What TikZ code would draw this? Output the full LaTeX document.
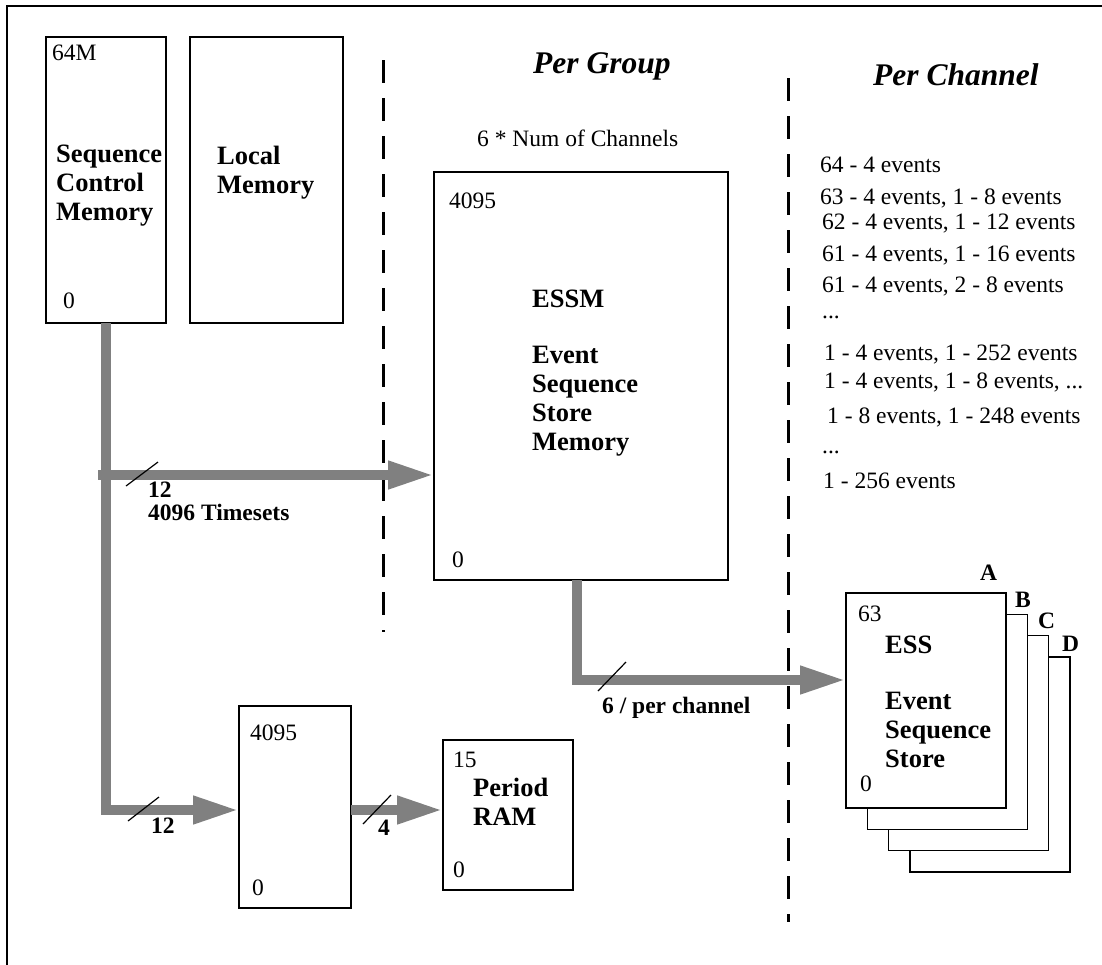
\documentclass[tikz,border=0pt]{standalone}
\usepackage{fontspec}
\setmainfont{Liberation Serif}
\usetikzlibrary{arrows.meta}
\definecolor{busgray}{RGB}{128,128,128}

\tikzset{
    membox/.style={draw, line width=1.4pt, fill=white, inner sep=0pt, outer sep=0pt},
    bus/.style={draw=busgray, line width=10pt, line join=miter, -{Triangle[length=46pt,width=26pt]}},
    slash/.style={line width=1.2pt},
    divider/.style={line width=3pt, dash pattern=on 23pt off 15pt},
    txt/.style={font=\fontsize{23.5}{27}\selectfont, inner sep=0pt, anchor=base west},
    boldlbl/.style={font=\fontsize{23.5}{27}\selectfont\bfseries, inner sep=0pt, anchor=base west},
    boxlbl/.style={font=\fontsize{26.5}{29}\selectfont\bfseries, inner sep=0pt, anchor=base west, align=left},
    heading/.style={font=\fontsize{31.5}{34}\selectfont\bfseries\itshape, inner sep=0pt, anchor=base west}
}

\begin{document}
\begin{tikzpicture}[x=1pt, y=-1pt]
    \useasboundingbox (0,0) rectangle (1102,964);
    % Frame
    \draw[line width=2pt] (1110,6) -- (7,6) -- (7,970);
    % Dividers
    \draw[divider] (383,60) -- (383,632);
    \draw[divider] (788,78) -- (788,922);
    % Headings
    \node[heading] (hgroup) at (533,73) {Per Group};
    \node[heading] (hchan) at (873,85) {Per Channel};
    \node[txt] (nchan) at (477,146) {6 * Num of Channels};

    % Sequence control memory (multi-line labels sit on their last baseline)
    \node[membox, minimum width=120pt, minimum height=286pt] (scm) at (106,180) {};
    \node[txt] (scmtop) at (52,60) {64M};
    \node[boxlbl] (scmlbl) at (56,220) {Sequence\\Control\\Memory};
    \node[txt] (scmbot) at (63,308) {0};
    % Local memory
    \node[membox, minimum width=153pt, minimum height=286pt] (local) at (266.5,180) {};
    \node[boxlbl] (locallbl) at (217,193) {Local\\Memory};

    % ESSM
    \node[membox, minimum width=294pt, minimum height=408pt] (essm) at (581,376) {};
    \node[txt] (essmtop) at (449,208) {4095};
    \node[boxlbl] (essmlbl) at (532,307) {ESSM};
    \node[boxlbl] (essmname) at (532,450) {Event\\Sequence\\Store\\Memory};
    \node[txt] (essmbot) at (452,567) {0};

    % Timeset memory
    \node[membox, minimum width=112pt, minimum height=202pt] (mid) at (295,807) {};
    \node[txt] (midtop) at (250,740) {4095};
    \node[txt] (midbot) at (252,895) {0};

    % Period RAM
    \node[membox, minimum width=130pt, minimum height=150pt] (per) at (508,815) {};
    \node[txt] (pertop) at (453,767) {15};
    \node[boxlbl] (perlbl) at (473,825) {Period\\RAM};
    \node[txt] (perbot) at (453,877) {0};

    % ESS stack D, C, B, A
    \node[membox, minimum width=160pt, minimum height=215pt] (essD) at (989.9,764.4) {};
    \node[membox, minimum width=160pt, minimum height=215pt] (essC) at (968.6,743.1) {};
    \node[membox, minimum width=160pt, minimum height=215pt] (essB) at (947.3,721.8) {};
    \node[membox, minimum width=160pt, minimum height=215pt] (essA) at (926,700.5) {};
    \node[boldlbl] (lblA) at (980,580) {A};
    \node[boldlbl] (lblB) at (1015,607) {B};
    \node[boldlbl] (lblC) at (1038,628) {C};
    \node[boldlbl] (lblD) at (1062,651) {D};
    \node[txt] (esstop) at (858,621) {63};
    \node[boxlbl] (esslbl) at (885,653) {ESS};
    \node[boxlbl] (essname) at (885,767) {Event\\Sequence\\Store};
    \node[txt] (essbot) at (860,791) {0};

    % Per channel list
    \node[txt] (ev1) at (820,172) {64 - 4 events};
    \node[txt] (ev2) at (820,204) {63 - 4 events, 1 - 8 events};
    \node[txt] (ev3) at (822,229) {62 - 4 events, 1 - 12 events};
    \node[txt] (ev4) at (822,261) {61 - 4 events, 1 - 16 events};
    \node[txt] (ev5) at (822,292) {61 - 4 events, 2 - 8 events};
    \node[txt] (ev6) at (822,318) {...};
    \node[txt] (ev7) at (824,360) {1 - 4 events, 1 - 252 events};
    \node[txt] (ev8) at (824,388) {1 - 4 events, 1 - 8 events, ...};
    \node[txt] (ev9) at (827,423) {1 - 8 events, 1 - 248 events};
    \node[txt] (ev10) at (822,453) {...};
    \node[txt] (ev11) at (823,488) {1 - 256 events};

    % Buses
    \coordinate (tap) at (98,475);
    \coordinate (low) at (0,810);
    \coordinate (out) at (0,680);
    \draw[bus] (tap) -- (essm.west |- tap);
    \draw[bus] (scm.south) |- (mid.west |- low);
    \draw[bus] (mid.east |- low) -- (per.west |- low);
    \draw[bus] ([xshift=-4pt]essm.south) |- (essA.west |- out);

    % Bus widths
    \draw[slash] (126,486) -- (158,462);
    \node[boldlbl] (w1) at (148,497) {12};
    \node[boldlbl] (w1b) at (148,520) {4096 Timesets};
    \draw[slash] (128,821) -- (159,797);
    \node[boldlbl] (w2) at (151,833) {12};
    \draw[slash] (363,824) -- (391,795);
    \node[boldlbl] (w3) at (378,835) {4};
    \draw[slash] (598,691) -- (626,662);
    \node[boldlbl] (w4) at (602,713) {6 / per channel};
\end{tikzpicture}
\end{document}
